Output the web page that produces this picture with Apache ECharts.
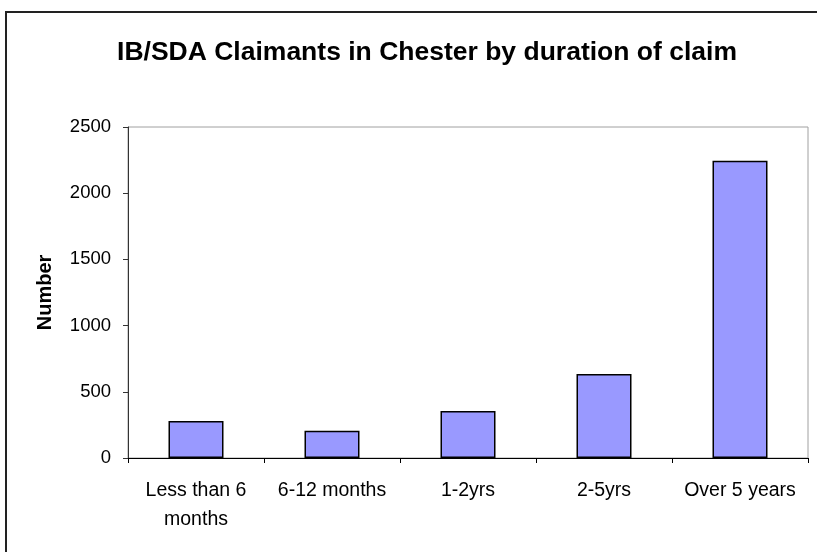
<!DOCTYPE html>
<html>
<head>
  <meta charset="UTF-8">
  <style>
    html, body { margin: 0; padding: 0; background: #fff; }
  </style>
  <script src="https://cdn.jsdelivr.net/npm/echarts@6/dist/echarts.min.js"></script>
</head>
<body>
  <div id="chart" style="width: 817px; height: 552px;"></div>
  <script>
    // claim durations along the x axis
    const categories = ['Less than 6\nmonths', '6-12 months', '1-2yrs', '2-5yrs', 'Over 5 years']
    // number of claimants
    const claimants = [280, 205, 355, 635, 2245]
    const yTicks = [0, 500, 1000, 1500, 2000, 2500]

    const myChart = echarts.init(document.getElementById('chart'))

    const options = {
      animation: false,
      backgroundColor: '#fff',
      title: {
        text: 'IB/SDA Claimants in Chester by duration of claim',
        left: 422,
        top: 34,
        textAlign: 'center',
        textStyle: {
          fontFamily: 'Liberation Sans, Arial',
          fontSize: 26.5,
          fontWeight: 'bold',
          color: '#000'
        }
      },
      graphic: [
        {
          type: 'rect',
          z: 100,
          silent: true,
          shape: { x: 6, y: 12, width: 900, height: 700 },
          style: { fill: 'none', stroke: '#222', lineWidth: 2 }
        }
      ],
      grid: {
        left: 128,
        right: 9,
        top: 127,
        bottom: 94,
        show: true,
        borderColor: '#a0a0a0',
        borderWidth: 1
      },
      xAxis: {
        type: 'category',
        data: categories,
        axisLine: { lineStyle: { color: '#000', width: 1 } },
        axisTick: { show: true, length: 5, lineStyle: { color: '#000' } },
        axisLabel: {
          interval: 0,
          margin: 18,
          fontFamily: 'Liberation Sans, Arial',
          fontSize: 19.5,
          lineHeight: 29,
          color: '#000'
        }
      },
      yAxis: {
        type: 'value',
        min: yTicks[0],
        max: yTicks[yTicks.length - 1],
        interval: 500,
        name: 'Number',
        nameLocation: 'middle',
        nameRotate: 90,
        nameGap: 73,
        nameTextStyle: {
          fontFamily: 'Liberation Sans, Arial',
          fontSize: 20,
          fontWeight: 'bold',
          color: '#000'
        },
        axisLine: { show: true, lineStyle: { color: '#333', width: 1 } },
        axisTick: { show: true, length: 5, lineStyle: { color: '#333' } },
        splitLine: { show: false },
        axisLabel: {
          margin: 17,
          fontFamily: 'Liberation Sans, Arial',
          fontSize: 18.5,
          color: '#000',
          formatter: v => String(v)
        }
      },
      series: [
        {
          name: 'Number',
          type: 'bar',
          data: claimants,
          barWidth: 55,
          itemStyle: {
            color: '#9999ff',
            borderColor: '#000',
            borderWidth: 1.5
          }
        }
      ]
    }

    myChart.setOption(options)
  </script>
</body>
</html>
